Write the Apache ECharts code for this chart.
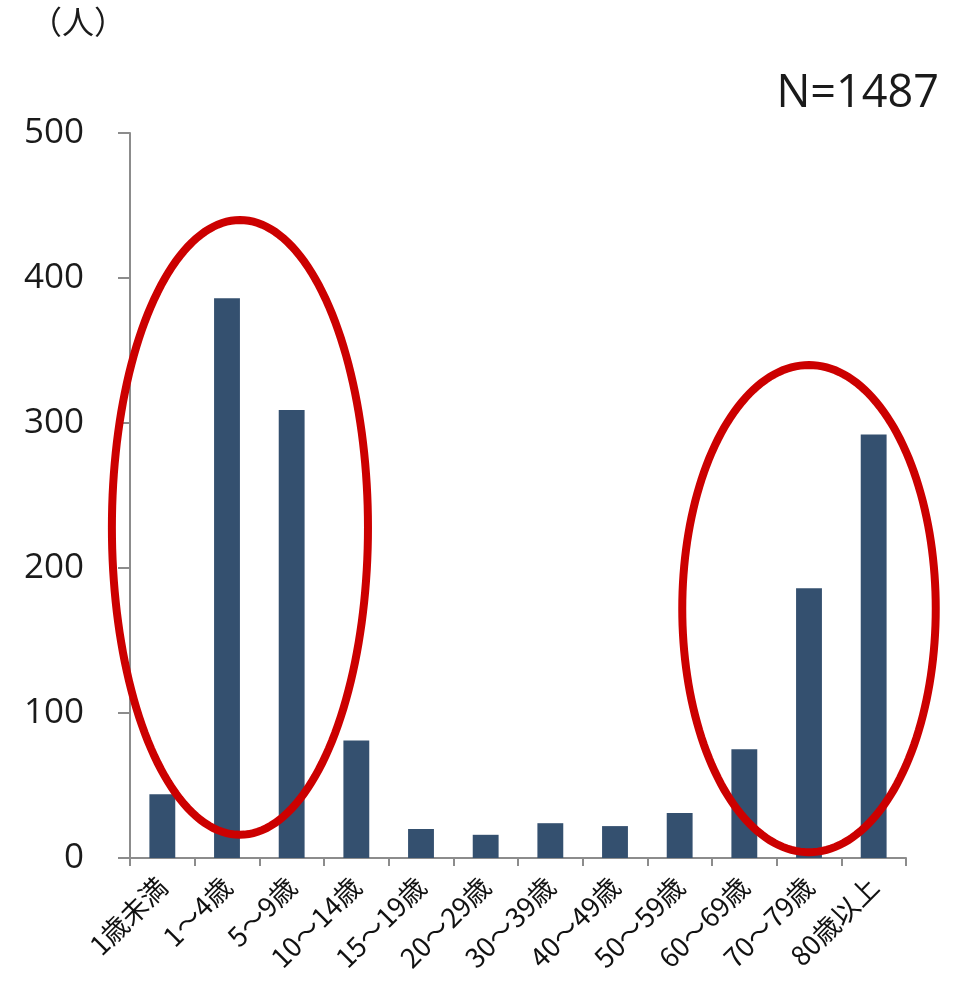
<!DOCTYPE html>
<html>
<head>
<meta charset="utf-8">
<script src="https://cdn.jsdelivr.net/npm/echarts@6/dist/echarts.min.js"></script>
<style>
  html, body { margin: 0; padding: 0; background: #ffffff; }
  #chart { width: 964px; height: 993px; }
</style>
</head>
<body>
<div id="chart"></div>
<script>
// Age groups and number of people in each
const categories = ['1歳未満', '1～4歳', '5～9歳', '10～14歳', '15～19歳', '20～29歳',
  '30～39歳', '40～49歳', '50～59歳', '60～69歳', '70～79歳', '80歳以上'];
const counts = [44, 386, 309, 81, 20, 16, 24, 22, 31, 75, 186, 292];
const yTicks = [0, 100, 200, 300, 400, 500];
const totalLabel = 'N=1487';
const unitLabel = '（人）';

// Highlight rings: centre (category index, value) and half-sizes (categories, value)
const rings = [
  { cx: 1.2, cy: 228, rx: 1.98, ry: 212 },
  { cx: 10.0, cy: 172, rx: 1.96, ry: 168 }
];

const jp = '"Noto Sans CJK JP", "Noto Sans", sans-serif';
const latin = '"Open Sans", "Noto Sans", sans-serif';
const chart = echarts.init(document.getElementById('chart'), null, { renderer: 'canvas' });

const option = {
  backgroundColor: '#ffffff',
  animation: false,
  grid: { left: 130, right: 58, top: 133, bottom: 135, containLabel: false },
  xAxis: {
    type: 'category',
    data: categories,
    boundaryGap: true,
    axisLine: { lineStyle: { color: '#8c8c8c', width: 2 } },
    axisTick: { show: true, length: 8, interval: 0, lineStyle: { color: '#8c8c8c', width: 2 } },
    axisLabel: {
      interval: 0, rotate: 45, margin: 24,
      fontFamily: jp, fontSize: 27, color: '#111111'
    }
  },
  yAxis: {
    type: 'value',
    min: yTicks[0], max: yTicks[yTicks.length - 1], interval: 100,
    axisLine: { show: true, lineStyle: { color: '#8c8c8c', width: 2 } },
    axisTick: { show: true, length: 12, lineStyle: { color: '#8c8c8c', width: 2 } },
    splitLine: { show: false },
    axisLabel: {
      margin: 46, fontFamily: latin,
      fontSize: 35, color: '#1a1a1a'
    }
  },
  series: [{
    type: 'bar',
    data: counts,
    barWidth: '40%',
    itemStyle: { color: '#34506f' }
  }],
  graphic: [
    { type: 'text', left: 30, top: 6,
      style: { text: unitLabel, font: '32px ' + jp, fill: '#1a1a1a' } },
    { type: 'text', right: 25, top: 72,
      style: { text: totalLabel, font: '45px ' + latin, fill: '#1a1a1a' } }
  ]
};
chart.setOption(option);

// Draw the highlight rings in chart coordinates
function ringPoints(r) {
  const p0 = chart.convertToPixel({ gridIndex: 0 }, [0, 0]);
  const p1 = chart.convertToPixel({ gridIndex: 0 }, [1, 100]);
  const stepX = p1[0] - p0[0];
  const stepY = (p1[1] - p0[1]) / 100;
  const cx = p0[0] + r.cx * stepX;
  const cy = p0[1] + r.cy * stepY;
  const rx = r.rx * stepX;
  const ry = Math.abs(r.ry * stepY);
  const pts = [];
  for (let i = 0; i < 180; i++) {
    const t = (i / 180) * Math.PI * 2;
    pts.push([cx + rx * Math.cos(t), cy + ry * Math.sin(t)]);
  }
  return pts;
}

const ringGraphics = rings.map(r => ({
  type: 'polygon',
  shape: { points: ringPoints(r) },
  style: { fill: 'none', stroke: '#cc0000', lineWidth: 8 },
  z: 100
}));

chart.setOption({ graphic: option.graphic.concat(ringGraphics) });
</script>
</body>
</html>
